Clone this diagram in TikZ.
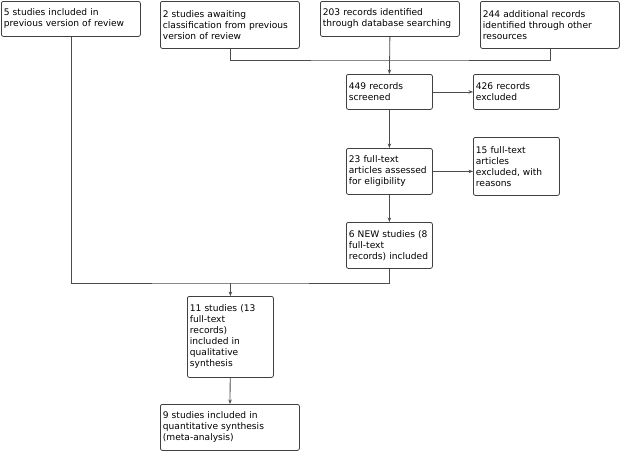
\documentclass[tikz,border=0pt]{standalone}
\usepackage{fontspec}
\setmainfont{DejaVu Sans}
\usetikzlibrary{arrows.meta}
\hyphenpenalty=10000
\exhyphenpenalty=10000

\tikzset{
  box/.style={draw=black!75, rounded corners=2pt, anchor=north west, align=left,
    inner xsep=2.5pt, inner ysep=3pt, font=\fontsize{9.1}{11}\selectfont,
    line width=0.8pt},
  wide/.style={box, minimum width=139pt, text width=134pt},
  narrow/.style={box, minimum width=86pt, text width=81pt},
  link/.style={draw=black!70, line width=0.8pt},
  arrow/.style={link, -{Stealth[length=4.5pt,width=3.5pt]}}
}

\begin{document}
\begin{tikzpicture}[x=1pt, y=-1pt]
\useasboundingbox (0,0) rectangle (621,451);

% Identification
\node[wide, minimum height=35pt] (prev) at (1,1) {5 studies included in\\previous version of review};
\node[wide, minimum height=47pt] (await) at (160,1) {2 studies awaiting\\classification from previous\\version of review};
\node[wide, minimum height=35pt] (dbase) at (320,1) {203 records identified\\through database searching};
\node[wide, minimum height=47pt] (other) at (480,1) {244 additional records\\identified through other\\resources};

% Screening
\node[narrow, minimum height=35pt] (screened) at (346,74) {449 records\\screened};
\node[narrow, minimum height=35pt] (excl) at (473,74) {426 records\\excluded};

% Eligibility
\node[narrow, minimum height=46pt] (assessed) at (346,148) {23 full-text\\articles assessed\\for eligibility};
\node[narrow, minimum height=58pt] (ftexcl) at (473,137) {15 full-text\\articles\\excluded, with\\reasons};
\node[narrow, minimum height=46pt] (newst) at (346,222) {6 NEW studies (8\\full-text\\records) included};

% Included
\node[narrow, minimum height=81pt] (qual) at (187,296) {11 studies (13\\full-text\\records)\\included in\\qualitative\\synthesis};
\node[wide, minimum height=46pt] (quant) at (160,404) {9 studies included in\\quantitative synthesis\\(meta-analysis)};

% Connections
\coordinate (topbar) at (389.5,60);
\coordinate (lowbar) at (230.5,283);
\draw[link] (await.south) |- (topbar) -| (other.south);
\draw[arrow] (dbase.south) -- (screened.north);
\draw[arrow] (screened) -- (excl);
\draw[arrow] (screened) -- (assessed);
\draw[arrow] (assessed) -- (assessed -| ftexcl.west);
\draw[arrow] (assessed) -- (newst);
\draw[link] (prev.south) |- (lowbar) -| (newst.south);
\draw[arrow] (lowbar) -- (qual.north);
\draw[arrow] (qual) -- (quant);

\end{tikzpicture}
\end{document}
